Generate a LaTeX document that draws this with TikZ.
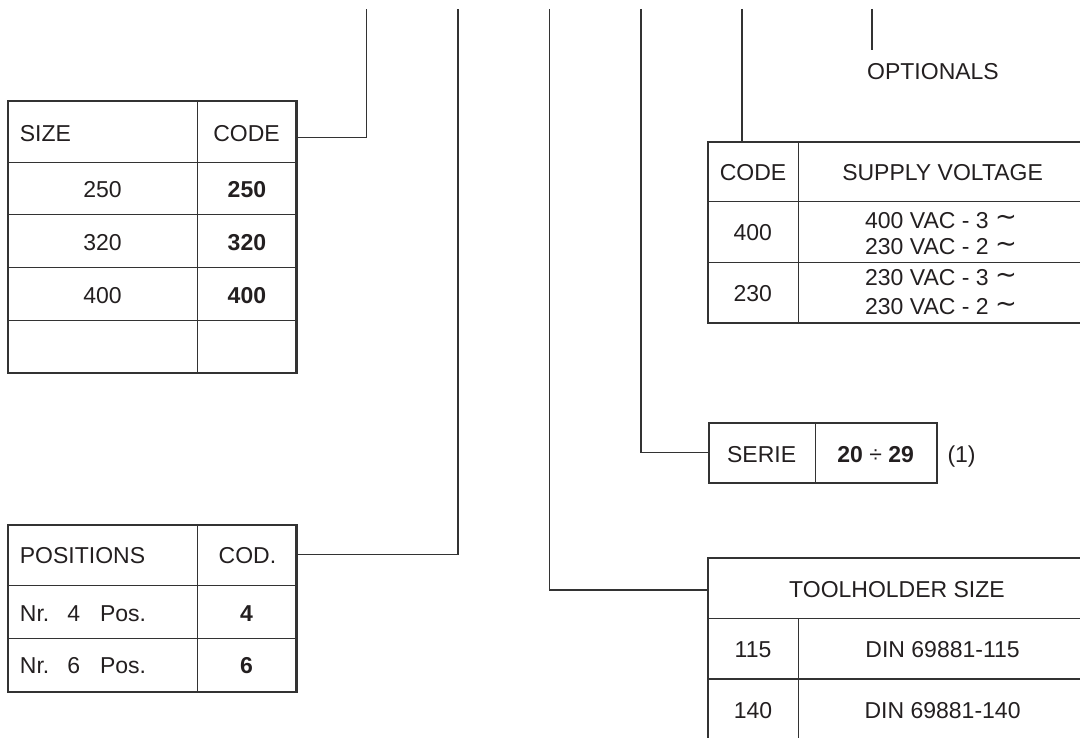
\documentclass[tikz,border=0pt]{standalone}
\usepackage{fontspec}
\setmainfont{Liberation Sans}
\newfontfamily\symfont{DejaVu Sans}
\definecolor{linec}{HTML}{333333}
\definecolor{textc}{HTML}{231F20}
\newcommand{\acsym}{\ \raisebox{2.5pt}{\symfont\fontsize{26}{28}\selectfont ∼}}
\begin{document}
\begin{tikzpicture}[x=1pt,y=-1pt,
  outerbox/.style={draw=linec, line width=2.2pt, inner sep=0pt, outer sep=0pt, rectangle},
  innerline/.style={draw=linec, line width=1.1pt},
  conn/.style={draw=linec, line width=1.2pt},
  txt/.style={text=textc, font=\fontsize{23}{27}\selectfont, inner sep=0pt, text height=16.5pt, text depth=0pt},
  btxt/.style={txt, font=\fontsize{23}{27}\selectfont\bfseries}]
\useasboundingbox (0,0) rectangle (1080,738);
\begin{scope}
\clip (0,0) rectangle (1080,738);
% top coordinates
\coordinate (topA) at (366.5,9);
\coordinate (topB) at (458,9);
\coordinate (topC) at (549.7,9);
\coordinate (topD) at (641,9);
\coordinate (topE) at (742,9);
\coordinate (topF) at (872,9);

% ===== SIZE table =====
\node[outerbox, minimum width=288.9pt, minimum height=272.1pt] (sizeT) at (152.05,237.05) {};
\draw[innerline] (197.6,101) -- (197.6,373.1);
\foreach \yy in {162.4,214.6,267.8,320.9} \draw[innerline] (7.6,\yy) -- (296.5,\yy);
\node[txt, anchor=west] (sizeH1) at (19.7,133) {SIZE};
\node[txt] (sizeH2) at (246.5,133) {CODE};
\node[txt] (s1a) at (102.6,189.3) {250};
\node[btxt] (s1b) at (246.9,189.3) {250};
\node[txt] (s2a) at (102.6,242) {320};
\node[btxt] (s2b) at (246.9,242) {320};
\node[txt] (s3a) at (102.6,295) {400};
\node[btxt] (s3b) at (246.9,295) {400};
\coordinate (sizeTap) at (296.5,137.3);
\draw[conn] (sizeTap) -| (topA);

% ===== POSITIONS table =====
\node[outerbox, minimum width=288.9pt, minimum height=166.7pt] (posT) at (152.05,608.35) {};
\draw[innerline] (197.6,525) -- (197.6,691.7);
\foreach \yy in {585.7,638.3} \draw[innerline] (7.6,\yy) -- (296.5,\yy);
\node[txt, anchor=west] (posH1) at (19.7,555.7) {POSITIONS};
\node[txt] (posH2) at (247.4,555.7) {COD.};
\node[txt, anchor=west] (p1a) at (19.7,613) {Nr.\hspace{18pt}4\hspace{20pt}Pos.};
\node[btxt] (p1b) at (246.6,613) {4};
\node[txt, anchor=west] (p2a) at (19.7,665.5) {Nr.\hspace{18pt}6\hspace{20pt}Pos.};
\node[btxt] (p2b) at (246.6,665.5) {6};
\coordinate (posTap) at (296.5,554.3);
\draw[conn] (posTap) -| (topB);

% ===== TOOLHOLDER table =====
\node[outerbox, minimum width=392pt, minimum height=181.7pt] (toolT) at (904,649.15) {};
\draw[innerline] (708,618.3) -- (1100,618.3);
\draw[innerline] (708,679) -- (1100,679);
\draw[innerline] (798.6,618.3) -- (798.6,740);
\node[txt] (toolH) at (897,589.3) {TOOLHOLDER SIZE};
\node[txt] (t1a) at (753,649.3) {115};
\node[txt] (t1b) at (942.6,649.3) {DIN 69881-115};
\node[txt] (t2a) at (753,710) {140};
\node[txt] (t2b) at (942.6,710) {DIN 69881-140};
\coordinate (toolTap) at (708,590);
\draw[conn] (topC) |- (toolTap);

% ===== SERIE box =====
\node[outerbox, minimum width=228pt, minimum height=60pt] (serT) at (823,453.3) {};
\draw[innerline] (815.5,423.3) -- (815.5,483.3);
\node[txt] (serA) at (761.6,454) {SERIE};
\node[btxt] (serB) at (875.7,454) {20 {\mdseries ÷} 29};
\node[txt] (serNote) at (961.6,454) {(1)};
\coordinate (serTap) at (709,452.7);
\draw[conn] (topD) |- (serTap);

% ===== SUPPLY VOLTAGE table =====
\node[outerbox, minimum width=392pt, minimum height=181pt] (supT) at (904,232.2) {};
\draw[innerline] (798.6,141.7) -- (798.6,322.7);
\draw[innerline] (708,201.7) -- (1100,201.7);
\draw[innerline] (708,262.7) -- (1100,262.7);
\node[txt] (supH1) at (753,172.7) {CODE};
\node[txt] (supH2) at (942.6,172.7) {SUPPLY VOLTAGE};
\node[txt] (v1a) at (752.8,232.7) {400};
\node[txt] (v1b) at (941,220) {400 VAC - 3\acsym};
\node[txt] (v1c) at (941,246.7) {230 VAC - 2\acsym};
\node[txt] (v2a) at (752.8,293.3) {230};
\node[txt] (v2b) at (941,277.7) {230 VAC - 3\acsym};
\node[txt] (v2c) at (941,306.7) {230 VAC - 2\acsym};
\coordinate (supTap) at (742,141.7);
\draw[conn] (topE) -- (supTap);

% ===== OPTIONALS =====
\coordinate (optEnd) at (872,50);
\draw[conn] (topF) -- (optEnd);
\node[txt] (optT) at (933,71) {OPTIONALS};
\end{scope}
\end{tikzpicture}
\end{document}
